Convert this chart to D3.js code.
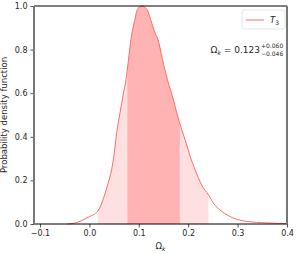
<!DOCTYPE html>
<meta charset="utf-8">
<script src="https://d3js.org/d3.v7.min.js"></script>
<style>
  body { margin: 0; background: #fff; }
  text { font-family: "DejaVu Sans", sans-serif; fill: #262626; }
</style>
<div id="my_dataviz"></div>
<script>

// posterior of Omega_k
var omegaK = [-0.045, -0.03, -0.019, -0.01, 0.001, 0.011, 0.018, 0.025, 0.032, 0.038, 0.045, 0.05, 0.056, 0.062, 0.069, 0.074, 0.079, 0.084, 0.092, 0.097, 0.106, 0.117, 0.124, 0.133, 0.139, 0.148, 0.158, 0.170, 0.178, 0.187, 0.196, 0.204, 0.214, 0.227, 0.241, 0.251, 0.268, 0.291, 0.318, 0.359, 0.4];
var pdf = [0, 0.004, 0.012, 0.022, 0.035, 0.046, 0.062, 0.096, 0.142, 0.188, 0.249, 0.32, 0.43, 0.51, 0.6, 0.661, 0.75, 0.845, 0.937, 0.983, 1.0, 0.983, 0.937, 0.876, 0.845, 0.754, 0.662, 0.571, 0.5, 0.433, 0.37, 0.31, 0.249, 0.18, 0.134, 0.096, 0.058, 0.028, 0.012, 0.005, 0.002];

var band1 = [0.077, 0.183];   // 68%
var band2 = [0.017, 0.241];   // 95%

var xTicks = [-0.1, 0.0, 0.1, 0.2, 0.3, 0.4];
var yTicks = [0.0, 0.2, 0.4, 0.6, 0.8, 1.0];

var data = omegaK.map(function(d, i) { return { x: d, y: pdf[i] }; });

var margin = {top: 6, right: 10, bottom: 30, left: 34},
    width = 297 - margin.left - margin.right,
    height = 218;

var svg = d3.select("#my_dataviz")
  .append("svg")
    .attr("width", 297)
    .attr("height", 254)
  .append("g")
    .attr("transform", "translate(" + margin.left + "," + margin.top + ")");

var x = d3.scaleLinear().domain([-0.1121, 0.4]).range([0, width]);
var y = d3.scaleLinear().domain([0, 1]).range([height, 0]);

// value at a given x, linear between read points
function interp(v) {
  var i = d3.bisector(function(d) { return d.x; }).right(data, v);
  if (i <= 0) return data[0].y;
  if (i >= data.length) return data[data.length - 1].y;
  var a = data[i - 1], b = data[i];
  return a.y + (b.y - a.y) * (v - a.x) / (b.x - a.x);
}
function bandPts(lo, hi) {
  var pts = [{x: lo, y: interp(lo)}];
  data.forEach(function(d) { if (d.x > lo && d.x < hi) pts.push(d); });
  pts.push({x: hi, y: interp(hi)});
  return pts;
}

var area = d3.area()
  .x(function(d) { return x(d.x); })
  .y0(y(0))
  .y1(function(d) { return y(d.y); })
  .curve(d3.curveMonotoneX);

svg.append("path").datum(bandPts(band2[0], band2[1]))
  .attr("fill", "#ffe0e0").attr("d", area);
svg.append("path").datum(bandPts(band1[0], band1[1]))
  .attr("fill", "#ffb3b3").attr("d", area);

svg.append("path")
  .datum(data)
  .attr("fill", "none")
  .attr("stroke", "#ff6b6b")
  .attr("stroke-width", 1)
  .attr("d", d3.line()
    .x(function(d) { return x(d.x); })
    .y(function(d) { return y(d.y); })
    .curve(d3.curveMonotoneX));

// axes
var xAxis = svg.append("g")
  .attr("transform", "translate(0," + height + ")")
  .call(d3.axisBottom(x).tickValues(xTicks).tickFormat(d3.format(".1f")).tickSizeOuter(0).tickSize(3.5).tickPadding(3));
var yAxis = svg.append("g")
  .call(d3.axisLeft(y).tickValues(yTicks).tickFormat(d3.format(".1f")).tickSizeOuter(0).tickSize(3.5).tickPadding(3));
[xAxis, yAxis].forEach(function(a) {
  a.select(".domain").remove();
  a.selectAll("text").style("font-size", "8px").attr("fill", "#262626");
  a.selectAll("line").attr("stroke", "#262626").attr("stroke-width", 0.8);
});

// frame
svg.append("line").attr("x1", 0).attr("x2", width).attr("y1", 0).attr("y2", 0)
  .attr("stroke", "#000").attr("stroke-width", 1.2);
svg.append("line").attr("x1", 0).attr("x2", width).attr("y1", height).attr("y2", height)
  .attr("stroke", "#000").attr("stroke-width", 1.2);
svg.append("line").attr("x1", 0).attr("x2", 0).attr("y1", 0).attr("y2", height)
  .attr("stroke", "#777").attr("stroke-width", 2);
svg.append("line").attr("x1", width).attr("x2", width).attr("y1", 0).attr("y2", height)
  .attr("stroke", "#777").attr("stroke-width", 2);

// labels
svg.append("text")
  .attr("transform", "rotate(-90)")
  .attr("x", -height / 2)
  .attr("y", -27)
  .style("text-anchor", "middle")
  .style("font-size", "8.5px")
  .text("Probability density function");

var xl = svg.append("text")
  .attr("x", width / 2)
  .attr("y", height + 25)
  .style("text-anchor", "middle")
  .style("font-size", "8.5px");
xl.append("tspan").text("Ω");
xl.append("tspan").attr("dy", 2).style("font-size", "6px").style("font-style", "italic").text("k");

// legend
var lg = svg.append("g").attr("transform", "translate(" + (width - 45) + ",4)");
lg.append("rect").attr("width", 43).attr("height", 19).attr("rx", 2)
  .attr("fill", "#fff").attr("stroke", "#ddd").attr("stroke-width", 0.8);
lg.append("line").attr("x1", 4).attr("x2", 22).attr("y1", 10).attr("y2", 10)
  .attr("stroke", "#ff6b6b").attr("stroke-width", 1);
var lt = lg.append("text").attr("x", 28).attr("y", 13).style("font-size", "8.5px");
lt.append("tspan").style("font-style", "italic").text("T");
lt.append("tspan").attr("dy", 2).style("font-size", "6px").text("3");

// result
var ann = svg.append("g");
var at = ann.append("text").attr("x", width - 27).attr("y", 47)
  .style("text-anchor", "end").style("font-size", "9px");
at.append("tspan").text("Ω");
at.append("tspan").attr("dy", 2).style("font-size", "6px").style("font-style", "italic").text("k");
at.append("tspan").attr("dy", -2).text(" = 0.123");
ann.append("text").attr("x", width - 26).attr("y", 42).style("font-size", "6px").text("+0.060");
ann.append("text").attr("x", width - 26).attr("y", 50).style("font-size", "6px").text("−0.046");

</script>
